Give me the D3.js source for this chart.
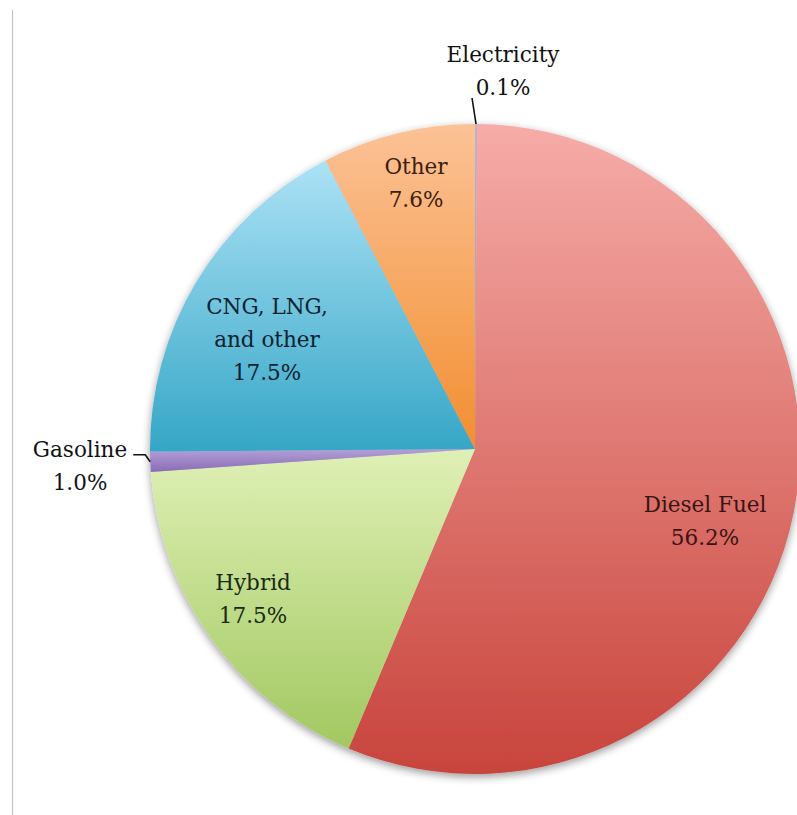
<!DOCTYPE html>
<html>
<head>
<meta charset="utf-8">
<script src="https://cdn.jsdelivr.net/npm/d3@7"></script>
<style>
  body { margin: 0; background: #fff; }
  svg { display: block; }
</style>
</head>
<body>
<svg id="chart"></svg>
<script>
// Fuel type shares (clockwise from 12 o'clock)
const categories = ['Electricity', 'Diesel Fuel', 'Hybrid', 'Gasoline', 'CNG, LNG, and other', 'Other'];
const shares = [0.1, 56.2, 17.5, 1.0, 17.5, 7.6];
const labelLines = [
  ['Electricity', '0.1%'],
  ['Diesel Fuel', '56.2%'],
  ['Hybrid', '17.5%'],
  ['Gasoline', '1.0%'],
  ['CNG, LNG,', 'and other', '17.5%'],
  ['Other', '7.6%']
];

// gradient stops per slice [light, dark]
const colors = [
  ['#b4b4d4', '#9c9cc4'],
  ['#f6aca8', '#c8443c'],
  ['#dff0b6', '#a2c860'],
  ['#b2a0d8', '#8a6cb4'],
  ['#ade2f6', '#35a6c6'],
  ['#fcc296', '#f28e30']
];
const textColors = ['#111', '#3a1412', '#1a2a0e', '#111', '#0c2230', '#3a200e'];

const width = 797, height = 815;
const cx = 475, cy = 449, radius = 325;

const svg = d3.select('#chart')
  .attr('width', width)
  .attr('height', height);

// thin frame line at the left
svg.append('line')
  .attr('x1', 12.5).attr('x2', 12.5)
  .attr('y1', 10).attr('y2', height)
  .attr('stroke', '#c4c4c4')
  .attr('stroke-width', 1.2);

const defs = svg.append('defs');

const shadow = defs.append('filter')
  .attr('id', 'shadow')
  .attr('x', '-10%').attr('y', '-10%')
  .attr('width', '120%').attr('height', '120%');
shadow.append('feGaussianBlur').attr('in', 'SourceAlpha').attr('stdDeviation', 4);
shadow.append('feOffset').attr('dx', 0).attr('dy', 3).attr('result', 'blur');
shadow.append('feComponentTransfer').append('feFuncA').attr('type', 'linear').attr('slope', 0.4);
const merge = shadow.append('feMerge');
merge.append('feMergeNode');
merge.append('feMergeNode').attr('in', 'SourceGraphic');

const pie = d3.pie().sort(null).value(d => d);
const arcs = pie(shares);
const arc = d3.arc().innerRadius(0).outerRadius(radius);

// one vertical gradient per slice, spanning that slice's bounding box
arcs.forEach((a, i) => {
  const g = defs.append('linearGradient')
    .attr('id', 'grad' + i)
    .attr('x1', 0).attr('y1', 0).attr('x2', 0).attr('y2', 1);
  g.append('stop').attr('offset', '0%').attr('stop-color', colors[i][0]);
  g.append('stop').attr('offset', '100%').attr('stop-color', colors[i][1]);
});

const pieG = svg.append('g')
  .attr('transform', `translate(${cx},${cy})`);

pieG.append('g')
  .attr('filter', 'url(#shadow)')
  .selectAll('path')
  .data(arcs)
  .join('path')
  .attr('d', arc)
  .attr('fill', (d, i) => `url(#grad${i})`);

// label positions relative to center
const labelPos = [
  [28, -387],
  [230, 63],
  [-222, 141],
  [-395, 8],
  [-208, -135],
  [-59, -275]
];
const lineH = 33;

arcs.forEach((a, i) => {
  const lines = labelLines[i];
  const t = pieG.append('text')
    .attr('text-anchor', 'middle')
    .attr('font-family', '"DejaVu Serif", serif')
    .attr('font-size', 21.5)
    .attr('fill', textColors[i]);
  lines.forEach((s, j) => {
    t.append('tspan')
      .attr('x', labelPos[i][0])
      .attr('y', labelPos[i][1] + j * lineH)
      .text(s);
  });
});

// leader lines for the two thin slices
const outer = d3.arc().innerRadius(radius).outerRadius(radius);
const elecPt = outer.centroid(arcs[0]);
pieG.append('path')
  .attr('d', d3.line()([elecPt, [elecPt[0] - 4, elecPt[1] - 26]]))
  .attr('fill', 'none').attr('stroke', '#111').attr('stroke-width', 1.6);

const gasPt = outer.centroid(arcs[3]);
pieG.append('path')
  .attr('d', d3.line()([gasPt, [gasPt[0] - 5, gasPt[1] - 7], [gasPt[0] - 17, gasPt[1] - 7]]))
  .attr('fill', 'none').attr('stroke', '#111').attr('stroke-width', 1.6);
</script>
</body>
</html>
